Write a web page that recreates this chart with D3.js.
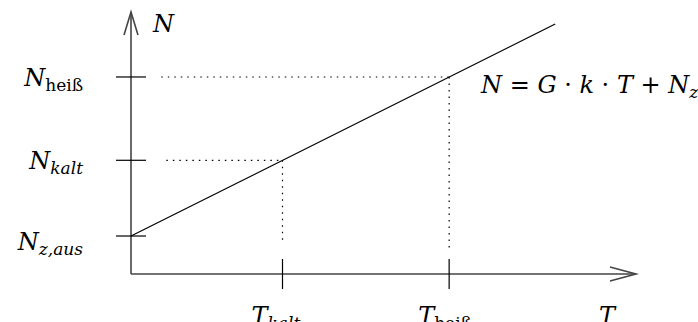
<!DOCTYPE html>
<html lang="de">
<head>
  <meta charset="UTF-8" />
  <title>N = G·k·T + Nz</title>
  <script src="https://d3js.org/d3.v7.min.js"></script>
  <style>
    html, body {
      margin: 0;
      padding: 0;
      width: 698px;
      height: 322px;
      background: white;
      overflow: hidden;
    }
    svg text {
      font-family: "DejaVu Serif", serif;
      font-size: 24px;
      fill: black;
    }
    .it { font-style: italic; }
    .axis-line { stroke: #444; stroke-width: 1.6; fill: none; }
    .tick-line { stroke: black; stroke-width: 1.2; }
    .guide { stroke: black; stroke-width: 1.2; stroke-dasharray: 1.5 5; }
    .model { stroke: black; stroke-width: 1.2; fill: none; }
  </style>
</head>
<body>
<svg id="chart" width="698" height="322"></svg>
<script>
// data (arbitrary units, T and N both 0..100)
const lineT = [0, 84];
const lineN = [14.5, 95.4];

const pointNames = ["kalt", "heiß"];
const pointT = [30, 63];
const pointN = [43.4, 75.2];

// where the dotted guides start (T) / stop (N)
const guideStartT = [7, 6];
const guideStopN = [12.2, 9.2];

const nzValue = 14.5;

const svg = d3.select("#chart");

const x = d3.scaleLinear().domain([0, 100]).range([131, 636]);
const y = d3.scaleLinear().domain([0, 100]).range([274, 12]);

// axes
svg.append("line").attr("class", "axis-line")
  .attr("x1", x(0)).attr("x2", x(100)).attr("y1", y(0)).attr("y2", y(0));
svg.append("line").attr("class", "axis-line")
  .attr("x1", x(0)).attr("x2", x(0)).attr("y1", y(0)).attr("y2", y(100));

// arrow heads
svg.append("path").attr("class", "axis-line")
  .attr("d", `M${x(100) - 26},${y(0) - 7} L${x(100)},${y(0)} L${x(100) - 26},${y(0) + 7}`);
svg.append("path").attr("class", "axis-line")
  .attr("d", `M${x(0) - 7},${y(100) + 23} L${x(0)},${y(100)} L${x(0) + 7},${y(100) + 23}`);

// ticks
const yTicks = [nzValue].concat(pointN);
svg.selectAll(".ytick").data(yTicks).join("line")
  .attr("class", "tick-line ytick")
  .attr("x1", x(0) - 15).attr("x2", x(0) + 15)
  .attr("y1", d => y(d)).attr("y2", d => y(d));

svg.selectAll(".xtick").data(pointT).join("line")
  .attr("class", "tick-line xtick")
  .attr("x1", d => x(d)).attr("x2", d => x(d))
  .attr("y1", y(0) - 15).attr("y2", y(0) + 15);

// dotted guides
svg.selectAll(".hguide").data(pointN).join("line")
  .attr("class", "guide hguide")
  .attr("x1", (d, i) => x(guideStartT[i])).attr("x2", (d, i) => x(pointT[i]))
  .attr("y1", d => y(d)).attr("y2", d => y(d));

svg.selectAll(".vguide").data(pointT).join("line")
  .attr("class", "guide vguide")
  .attr("x1", d => x(d)).attr("x2", d => x(d))
  .attr("y1", (d, i) => y(pointN[i])).attr("y2", (d, i) => y(guideStopN[i]));

// model line
svg.append("path").attr("class", "model")
  .datum(d3.zip(lineT, lineN))
  .attr("d", d3.line().x(d => x(d[0])).y(d => y(d[1])));

// helper: label with subscript
function subLabel(g, base, sub, subItalic, anchor) {
  const t = g.append("text").attr("text-anchor", anchor);
  t.append("tspan").attr("class", "it").text(base);
  t.append("tspan")
    .attr("class", subItalic ? "it" : null)
    .attr("dy", 5)
    .style("font-size", "17px")
    .text(sub);
  return t;
}

// y labels
subLabel(svg, "N", "z,aus", true, "end").attr("x", 83).attr("y", y(nzValue) + 14);
pointNames.forEach((name, i) => {
  subLabel(svg, "N", name, name !== "heiß", "end")
    .attr("x", 83).attr("y", y(pointN[i]) + 9);
});

// x labels
pointNames.forEach((name, i) => {
  subLabel(svg, "T", name, name !== "heiß", "start")
    .attr("x", x(pointT[i]) - 31).attr("y", y(0) + 50);
});
svg.append("text").attr("class", "it")
  .attr("x", 599).attr("y", y(0) + 50).text("T");

svg.append("text").attr("class", "it")
  .attr("x", 153).attr("y", 32).text("N");

// equation
const eq = svg.append("text").attr("x", 481).attr("y", 93);
eq.append("tspan").attr("class", "it").text("N");
eq.append("tspan").text(" = ");
eq.append("tspan").attr("class", "it").text("G");
eq.append("tspan").text(" · ");
eq.append("tspan").attr("class", "it").text("k");
eq.append("tspan").text(" · ");
eq.append("tspan").attr("class", "it").text("T");
eq.append("tspan").text(" + ");
eq.append("tspan").attr("class", "it").text("N");
eq.append("tspan").attr("class", "it").attr("dy", 5).style("font-size", "17px").text("z");
</script>
</body>
</html>
